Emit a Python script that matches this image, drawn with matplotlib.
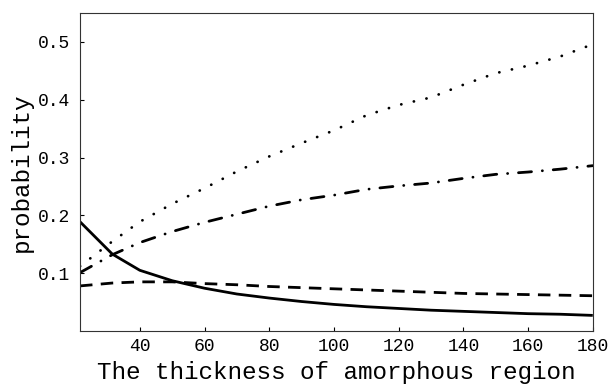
import matplotlib
matplotlib.use('Agg')
import matplotlib.pyplot as plt

# #
# Data
# #
thickness = [21.5, 31.5, 40, 50, 60, 70, 80, 90, 100, 110, 120, 130, 140, 150, 160, 170, 180]

p_solid = [0.189, 0.133, 0.105, 0.087, 0.074, 0.064, 0.057, 0.051, 0.046, 0.042, 0.039,
           0.036, 0.034, 0.032, 0.030, 0.029, 0.027]
p_dashed = [0.078, 0.083, 0.085, 0.085, 0.082, 0.080, 0.077, 0.075, 0.073, 0.071, 0.069,
            0.067, 0.065, 0.064, 0.063, 0.062, 0.061]
p_dotted = [0.112, 0.155, 0.189, 0.220, 0.247, 0.276, 0.302, 0.325, 0.347, 0.373, 0.391,
            0.404, 0.426, 0.446, 0.459, 0.475, 0.496]
p_dotdash = [0.101, 0.132, 0.153, 0.172, 0.188, 0.202, 0.216, 0.227, 0.235, 0.245, 0.251,
             0.256, 0.264, 0.271, 0.275, 0.280, 0.286]

xticks = [40, 60, 80, 100, 120, 140, 160, 180]
yticks = [0.1, 0.2, 0.3, 0.4, 0.5]

plt.rcParams['font.family'] = ['Liberation Mono', 'DejaVu Sans Mono']

fig = plt.figure(figsize=(6.13, 3.84), dpi=100)
ax = fig.add_axes([0.1305, 0.138, 0.8365, 0.828])

ax.plot(thickness, p_solid, color='black', lw=2.0, solid_capstyle='butt')
ax.plot(thickness, p_dashed, color='black', lw=2.0, dashes=(4.5, 3.0), dash_capstyle='butt')
ax.plot(thickness, p_dotted, color='black', lw=2.0, dashes=(0.05, 4.6), dash_capstyle='round')
ax.plot(thickness, p_dotdash, color='black', lw=2.0, dashes=(4.7, 3.9, 0.05, 3.9),
        dash_capstyle='round')

ax.set_xlim(21.5, 180)
ax.set_ylim(0, 0.55)
ax.set_xticks(xticks)
ax.set_yticks(yticks)
ax.set_xticklabels([str(t) for t in xticks])
ax.set_yticklabels([f'{t:.1f}'.replace('.', '.') for t in yticks])

ax.tick_params(direction='in', length=3, width=0.8, labelsize=13, color='black')
ax.tick_params(axis='x', pad=5)
ax.tick_params(axis='y', pad=7)

for s in ax.spines.values():
    s.set_linewidth(0.8)
    s.set_color('#333333')

ax.set_xlabel('The thickness of amorphous region', fontsize=17.5, labelpad=4)
ax.set_ylabel('probability', fontsize=17.5, labelpad=4)

fig.savefig('out.png', dpi=100)
